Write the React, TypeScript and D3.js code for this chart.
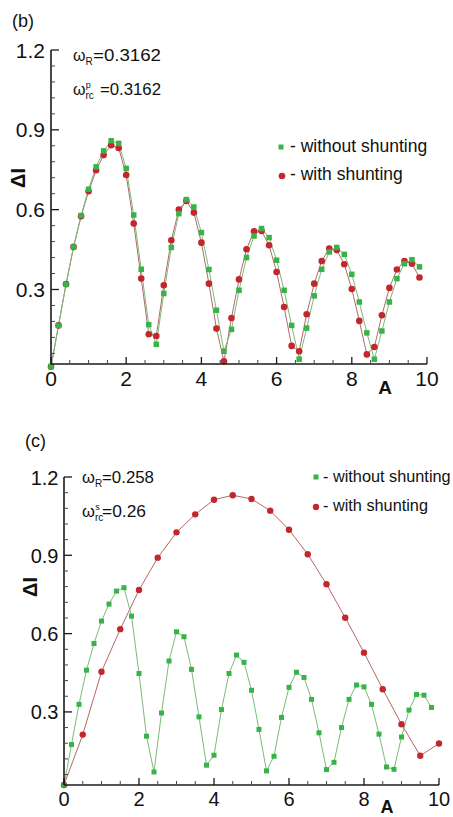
import React from "react";
import * as d3 from "d3";

// ---------- data ----------
const aTop = [0, 0.2, 0.4, 0.6, 0.8, 1.0, 1.2, 1.4, 1.6, 1.8, 2.0, 2.2, 2.4, 2.6, 2.8, 3.0, 3.2, 3.4, 3.6, 3.8, 4.0, 4.2, 4.4, 4.6, 4.8, 5.0, 5.2, 5.4, 5.6, 5.8, 6.0, 6.2, 6.4, 6.6, 6.8, 7.0, 7.2, 7.4, 7.6, 7.8, 8.0, 8.2, 8.4, 8.6, 8.8, 9.0, 9.2, 9.4, 9.6, 9.8];
const topWithout = [0.01, 0.165, 0.32, 0.46, 0.578, 0.677, 0.761, 0.821, 0.859, 0.849, 0.755, 0.58, 0.376, 0.168, 0.094, 0.285, 0.458, 0.585, 0.638, 0.61, 0.514, 0.375, 0.222, 0.068, 0.15, 0.297, 0.42, 0.501, 0.529, 0.495, 0.41, 0.297, 0.165, 0.038, 0.155, 0.276, 0.376, 0.441, 0.458, 0.432, 0.357, 0.253, 0.137, 0.038, 0.144, 0.253, 0.341, 0.397, 0.412, 0.385];
const topWith = [0.01, 0.165, 0.32, 0.46, 0.575, 0.669, 0.748, 0.805, 0.842, 0.832, 0.73, 0.548, 0.341, 0.132, 0.125, 0.316, 0.485, 0.6, 0.633, 0.589, 0.476, 0.322, 0.153, 0.03, 0.193, 0.338, 0.451, 0.519, 0.52, 0.466, 0.366, 0.234, 0.088, 0.068, 0.207, 0.322, 0.407, 0.454, 0.448, 0.395, 0.302, 0.182, 0.056, 0.084, 0.203, 0.306, 0.375, 0.407, 0.397, 0.345];

const aBotWithout = [0, 0.2, 0.4, 0.6, 0.8, 1.0, 1.2, 1.4, 1.6, 1.8, 2.0, 2.2, 2.4, 2.6, 2.8, 3.0, 3.2, 3.4, 3.6, 3.8, 4.0, 4.2, 4.4, 4.6, 4.8, 5.0, 5.2, 5.4, 5.6, 5.8, 6.0, 6.2, 6.4, 6.6, 6.8, 7.0, 7.2, 7.4, 7.6, 7.8, 8.0, 8.2, 8.4, 8.6, 8.8, 9.0, 9.2, 9.4, 9.6, 9.8];
const botWithout = [0.02, 0.175, 0.329, 0.46, 0.562, 0.648, 0.713, 0.763, 0.776, 0.667, 0.447, 0.207, 0.07, 0.296, 0.495, 0.607, 0.588, 0.463, 0.281, 0.096, 0.134, 0.309, 0.447, 0.518, 0.49, 0.383, 0.233, 0.074, 0.13, 0.279, 0.394, 0.452, 0.432, 0.348, 0.22, 0.079, 0.107, 0.24, 0.348, 0.403, 0.396, 0.329, 0.215, 0.089, 0.08, 0.204, 0.307, 0.367, 0.364, 0.317];
const aBotWith = [0, 0.5, 1.0, 1.5, 2.0, 2.5, 3.0, 3.5, 4.0, 4.5, 5.0, 5.5, 6.0, 6.5, 7.0, 7.5, 8.0, 8.5, 9.0, 9.5, 10.0];
const botWith = [0.02, 0.213, 0.454, 0.617, 0.767, 0.891, 0.988, 1.057, 1.113, 1.13, 1.116, 1.071, 0.998, 0.904, 0.789, 0.661, 0.527, 0.387, 0.253, 0.132, 0.179];

const xMajor = [0, 2, 4, 6, 8, 10];
const xMinor = [0.5, 1, 1.5, 2.5, 3, 3.5, 4.5, 5, 5.5, 6.5, 7, 7.5, 8.5, 9, 9.5];
const yMajor = [0.3, 0.6, 0.9, 1.2];
const yMinor = [0.06, 0.12, 0.18, 0.24, 0.36, 0.42, 0.48, 0.54, 0.66, 0.72, 0.78, 0.84, 0.96, 1.02, 1.08, 1.14];
const xLabels = ["0", "2", "4", "6", "8", "10"];
const yLabels = ["0.3", "0.6", "0.9", "1.2"];
const legendLabels = ["- without shunting", "- with shunting"];

const GREEN = "#37b34a";
const RED = "#c1272d";
const GREEN_LINE = "#7cba78";
const RED_LINE = "#b06a66";
const FONT = "'Liberation Sans', Arial, sans-serif";

type PanelProps = {
  x0: number; x1: number; yTop: number; yBot: number;
  gA: number[]; gV: number[]; rA: number[]; rV: number[];
  sq: number; cr: number;
  xLabelBase: number; yLabelRight: number; tickFont: number;
};

function Panel(p: PanelProps) {
  const x = d3.scaleLinear().domain([0, 10]).range([p.x0, p.x1]);
  const y = d3.scaleLinear().domain([0.02, 1.2]).range([p.yBot, p.yTop]);
  const line = d3.line<[number, number]>().x((d) => x(d[0])).y((d) => y(d[1]));
  const gPts: [number, number][] = p.gA.map((a, i) => [a, p.gV[i]]);
  const rPts: [number, number][] = p.rA.map((a, i) => [a, p.rV[i]]);
  return (
    <g>
      <path d={line(rPts) || ""} fill="none" stroke={RED_LINE} strokeWidth={1} />
      <path d={line(gPts) || ""} fill="none" stroke={GREEN_LINE} strokeWidth={1} />
      {rPts.map((d, i) => (
        <circle key={"r" + i} cx={x(d[0])} cy={y(d[1])} r={p.cr} fill={RED} />
      ))}
      {gPts.map((d, i) => (
        <rect key={"g" + i} x={x(d[0]) - p.sq / 2} y={y(d[1]) - p.sq / 2} width={p.sq} height={p.sq} fill={GREEN} />
      ))}
      {/* axes */}
      <line x1={x(0)} x2={x(0)} y1={y(1.2)} y2={y(0.02)} stroke="#1a1a1a" strokeWidth={1.6} />
      <line x1={x(0)} x2={x(10)} y1={y(0.02)} y2={y(0.02)} stroke="#1a1a1a" strokeWidth={1.6} />
      {yMajor.map((v) => (
        <line key={"ym" + v} x1={x(0)} x2={x(0) + 8} y1={y(v)} y2={y(v)} stroke="#1a1a1a" strokeWidth={1.3} />
      ))}
      {yMinor.map((v) => (
        <line key={"yn" + v} x1={x(0)} x2={x(0) + 4} y1={y(v)} y2={y(v)} stroke="#444" strokeWidth={1} />
      ))}
      {xMajor.map((v) => (
        <line key={"xm" + v} x1={x(v)} x2={x(v)} y1={y(0.02)} y2={y(0.02) - 7} stroke="#1a1a1a" strokeWidth={1.3} />
      ))}
      {xMinor.map((v) => (
        <line key={"xn" + v} x1={x(v)} x2={x(v)} y1={y(0.02)} y2={y(0.02) - 4} stroke="#444" strokeWidth={1} />
      ))}
      {yMajor.map((v, i) => (
        <text key={"yl" + v} x={p.yLabelRight} y={y(v) + 7.5} textAnchor="end" fontSize={p.tickFont} fontFamily={FONT} fill="#111">
          {yLabels[i]}
        </text>
      ))}
      {xMajor.map((v, i) => (
        <text key={"xl" + v} x={x(v)} y={p.xLabelBase} textAnchor="middle" fontSize={p.tickFont} fontFamily={FONT} fill="#111">
          {xLabels[i]}
        </text>
      ))}
    </g>
  );
}

export default function App() {
  return (
    <svg width={453} height={817} style={{ position: "absolute", left: 0, top: 0, background: "#fff" }} fontFamily={FONT}>
      <rect x={0} y={0} width={453} height={817} fill="#fff" />
      {/* ---- panel (b) ---- */}
      <text x={12} y={27} fontSize={18} fill="#111">(b)</text>
      <Panel x0={51} x1={427} yTop={50} yBot={364} gA={aTop} gV={topWithout} rA={aTop} rV={topWith}
        sq={5.5} cr={3.3} xLabelBase={386} yLabelRight={45} tickFont={21} />
      <text transform="translate(25,178) rotate(-90)" textAnchor="middle" fontSize={20} fontWeight="bold" fill="#111">ΔI</text>
      <text x={385} y={394} textAnchor="middle" fontSize={19} fontWeight="bold" fill="#111">A</text>
      <text x={73} y={61} fontSize={16} fill="#111">ω<tspan dy={4} fontSize={10}>R</tspan></text>
      <text x={93} y={61} fontSize={16} fill="#111" textLength={68} lengthAdjust="spacingAndGlyphs">=0.3162</text>
      <text x={73} y={95} fontSize={16} fill="#111">ω<tspan dy={4} fontSize={10}>rc</tspan><tspan dx={-8} dy={-11} fontSize={9}>p</tspan></text>
      <text x={100} y={95} fontSize={16} fill="#111" textLength={61} lengthAdjust="spacingAndGlyphs">=0.3162</text>
      <rect x={278.5} y={144.5} width={5} height={5} fill={GREEN} />
      <text x={290} y={152} fontSize={17.5} fill="#111">{legendLabels[0]}</text>
      <circle cx={282} cy={176} r={3.3} fill={RED} />
      <text x={290} y={180} fontSize={17.5} fill="#111">{legendLabels[1]}</text>

      {/* ---- panel (c) ---- */}
      <text x={25} y={447} fontSize={18} fill="#111">(c)</text>
      <Panel x0={64} x1={439} yTop={477} yBot={785} gA={aBotWithout} gV={botWithout} rA={aBotWith} rV={botWith}
        sq={5} cr={3.2} xLabelBase={806} yLabelRight={58.5} tickFont={20} />
      <text transform="translate(37,587) rotate(-90)" textAnchor="middle" fontSize={20} fontWeight="bold" fill="#111">ΔI</text>
      <text x={387} y={813} textAnchor="middle" fontSize={18} fontWeight="bold" fill="#111">A</text>
      <text x={82} y={483} fontSize={16.5} fill="#111">ω<tspan dy={4} fontSize={10}>R</tspan></text>
      <text x={102} y={483} fontSize={16.5} fill="#111" textLength={52} lengthAdjust="spacingAndGlyphs">=0.258</text>
      <text x={82} y={517} fontSize={16.5} fill="#111">ω<tspan dy={4} fontSize={10}>rc</tspan><tspan dx={-8} dy={-11} fontSize={9}>s</tspan></text>
      <text x={102} y={517} fontSize={16.5} fill="#111" textLength={44} lengthAdjust="spacingAndGlyphs">=0.26</text>
      <rect x={313.5} y={474.5} width={5} height={5} fill={GREEN} />
      <text x={323} y={482} fontSize={16.3} fill="#111">{legendLabels[0]}</text>
      <circle cx={316} cy={507} r={3.2} fill={RED} />
      <text x={323} y={511} fontSize={16.3} fill="#111">{legendLabels[1]}</text>
    </svg>
  );
}
